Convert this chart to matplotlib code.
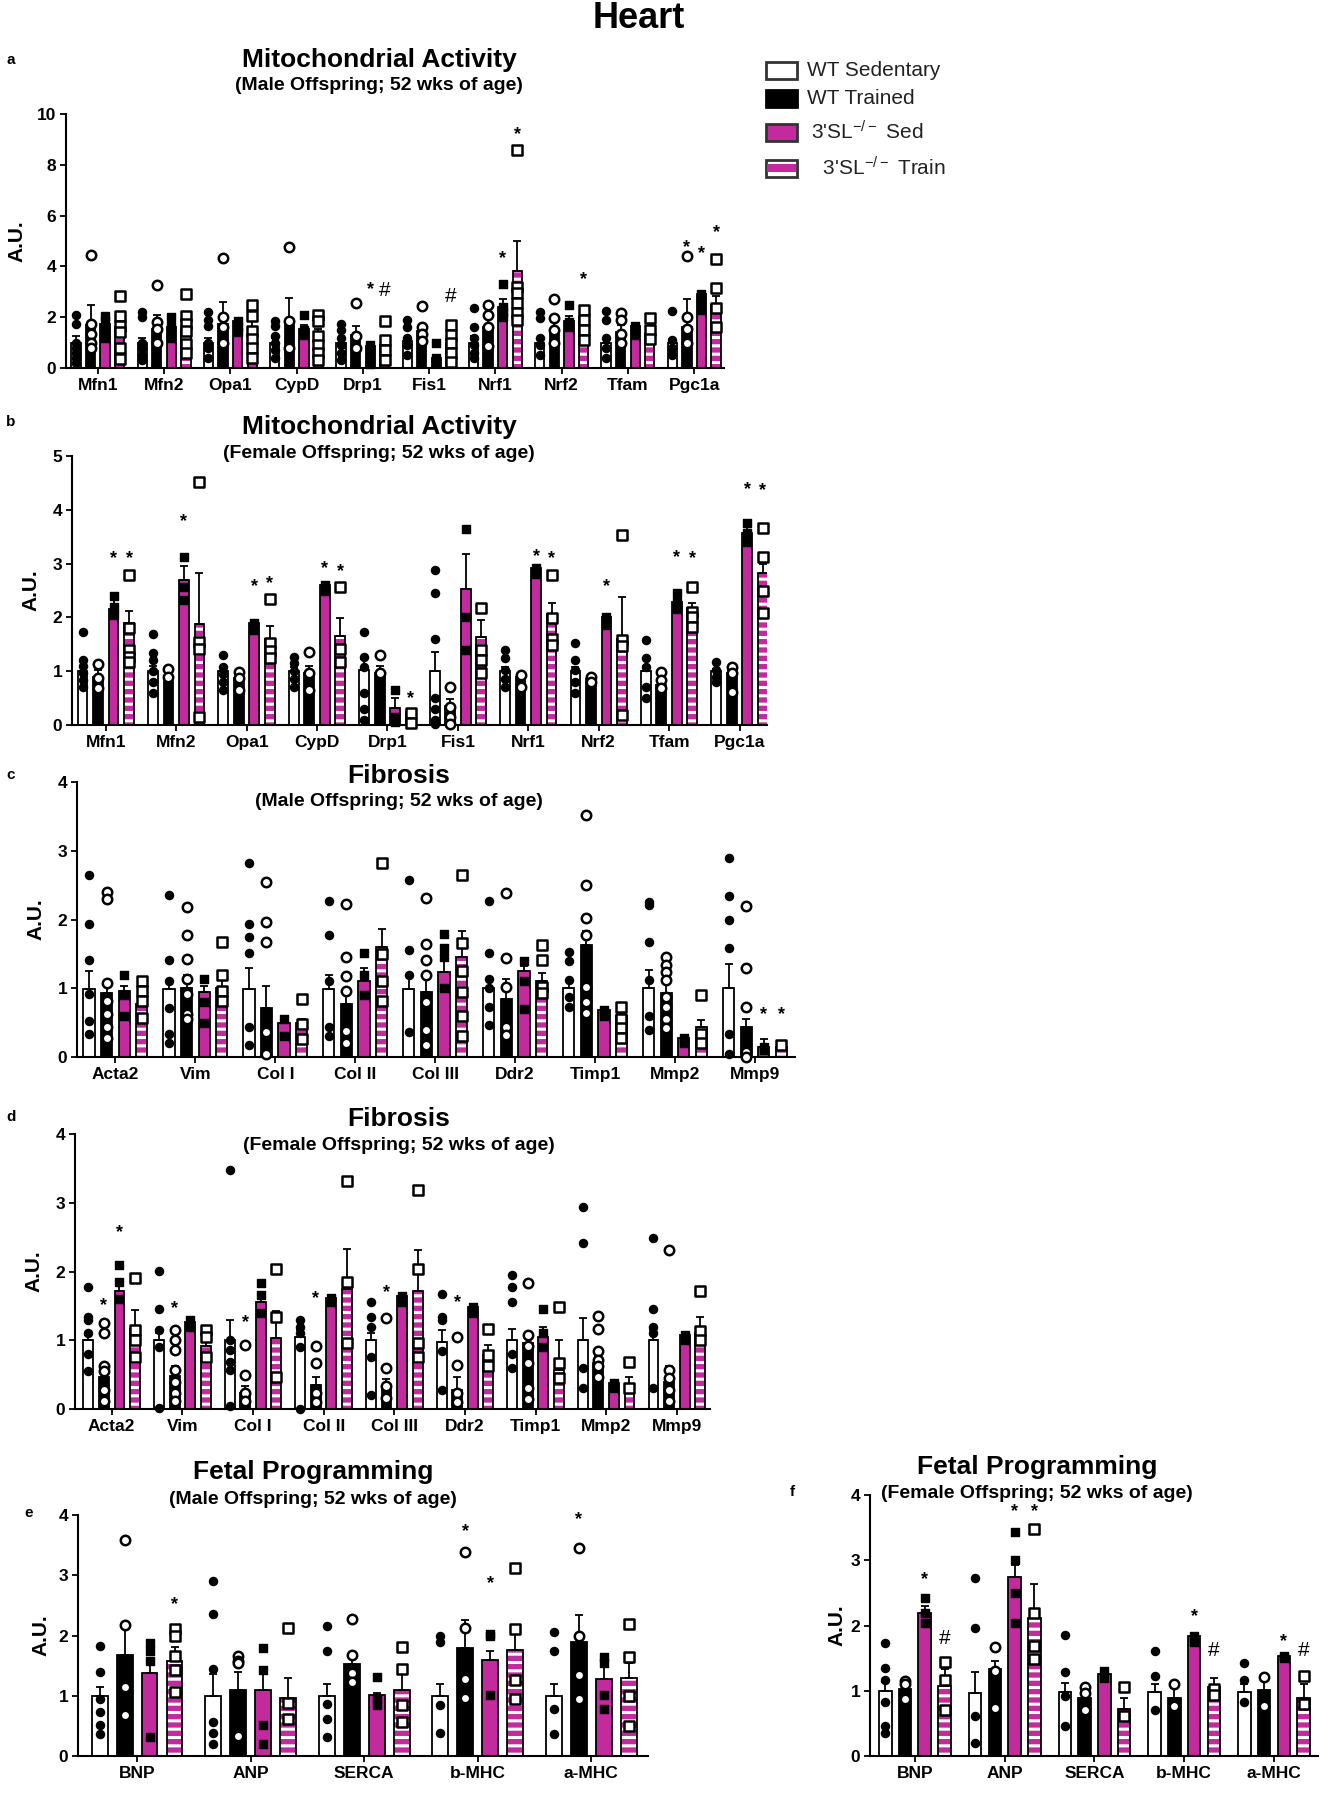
import numpy as np
import matplotlib
matplotlib.use("Agg")
import matplotlib.pyplot as plt
from matplotlib.patches import Rectangle

plt.rcParams['font.family'] = ['Liberation Sans', 'DejaVu Sans']
plt.rcParams['mathtext.default'] = 'regular'
plt.rcParams['hatch.linewidth'] = 2.2

MAG = '#C22A9E'
W, H = 1329, 1800

# ---------------- DATA ----------------
groups = ["WT Sedentary", "WT Trained", "3'SL$^{-/-}$ Sed", " 3'SL$^{-/-}$ Train"]

a_cats = ["Mfn1", "Mfn2", "Opa1", "CypD", "Drp1", "Fis1", "Nrf1", "Nrf2", "Tfam", "Pgc1a"]
a_mean = [[1.0, 1.0, 1.0, 1.0, 1.0, 1.05, 1.0, 1.0, 1.0, 1.0],
          [1.7, 1.55, 1.75, 1.7, 1.3, 1.45, 1.6, 1.5, 1.4, 1.6],
          [1.75, 1.6, 1.85, 1.55, 0.88, 0.4, 2.4, 1.85, 1.65, 2.9],
          [1.6, 1.5, 1.55, 1.3, 0.9, 1.0, 3.8, 2.0, 1.35, 2.5]]
a_sem = [[0.25, 0.2, 0.2, 0.2, 0.2, 0.15, 0.25, 0.2, 0.2, 0.15],
         [0.8, 0.55, 0.85, 1.05, 0.35, 0.25, 0.4, 0.3, 0.3, 1.1],
         [0.15, 0.2, 0.1, 0.15, 0.1, 0.1, 0.3, 0.2, 0.1, 0.15],
         [0.35, 0.3, 0.3, 0.25, 0.2, 0.3, 1.2, 0.35, 0.2, 0.35]]
a_pts = [[[2.1, 1.75, 1.0, 0.8, 0.6, 0.4, 0.2], [2.2, 2.0, 1.0, 0.8, 0.5, 0.3], [2.2, 1.9, 1.65, 1.0, 0.8, 0.4],
          [1.85, 1.65, 1.25, 1.0, 0.7, 0.4], [1.75, 1.5, 1.2, 0.9, 0.6, 0.3], [1.9, 1.6, 1.2, 0.9, 0.5],
          [2.35, 1.6, 1.2, 0.9, 0.6, 0.4], [2.2, 1.95, 1.2, 0.9, 0.5], [2.25, 1.9, 1.2, 0.8, 0.4], [2.25, 1.1, 0.8, 0.5]],
         [[4.45, 1.75, 1.35, 1.0, 0.8], [3.25, 1.8, 1.55, 1.0], [4.35, 2.0, 1.6, 1.0], [4.75, 1.85, 0.8],
          [2.55, 1.25, 0.8], [2.45, 1.6, 1.35, 1.05], [2.5, 2.1, 1.6, 0.87], [2.7, 1.95, 1.5, 0.97],
          [2.15, 1.9, 1.35, 0.97], [4.4, 2.0, 1.55, 1.0]],
         [[2.05, 1.85, 1.6, 1.4, 1.2], [2.0, 1.65, 1.45, 1.2], [1.85, 1.6, 1.4], [2.1, 1.5, 1.3],
          [0.9, 0.7, 0.5, 0.3, 0.15], [0.97, 0.4, 0.25], [3.3, 2.4, 2.2, 2.0], [2.5, 1.8, 1.6],
          [1.65, 1.5, 1.3], [2.9, 2.7, 2.5, 2.3]],
         [[2.85, 2.05, 1.65, 1.4, 0.8, 0.35], [2.9, 2.05, 1.75, 1.45, 0.95, 0.6], [2.5, 2.05, 1.45, 1.15, 0.8, 0.4],
          [2.1, 1.85, 1.25, 0.9, 0.6, 0.3], [1.85, 1.1, 0.7, 0.3], [1.7, 1.3, 0.97, 0.58, 0.25],
          [8.6, 3.2, 2.95, 2.55, 2.15, 1.9], [2.3, 1.9, 1.5, 1.1], [1.95, 1.5, 1.15], [4.3, 3.15, 2.35, 1.6]]]
a_sig = [(4, 2, '*', 3.1), (4, 3, '#', 3.05), (5, 3, '#', 2.8), (6, 2, '*', 4.3), (6, 3, '*', 9.2),
         (7, 3, '*', 3.5), (9, 1, '*', 4.75), (9, 2, '*', 4.5), (9, 3, '*', 5.35)]

b_cats = a_cats
b_mean = [[1.0, 1.0, 1.0, 1.0, 1.02, 1.0, 1.0, 1.0, 1.0, 1.0],
          [0.9, 0.9, 0.88, 0.97, 0.97, 0.35, 0.9, 0.85, 0.75, 0.97],
          [2.15, 2.7, 1.9, 2.6, 0.31, 2.52, 2.91, 2.01, 2.29, 3.56],
          [1.9, 1.88, 1.6, 1.66, 0.25, 1.64, 2.06, 1.6, 2.17, 2.82]]
b_sem = [[0.1, 0.1, 0.08, 0.08, 0.2, 0.35, 0.07, 0.08, 0.1, 0.05],
         [0.12, 0.08, 0.08, 0.13, 0.13, 0.13, 0.06, 0.05, 0.1, 0.1],
         [0.2, 0.25, 0.05, 0.05, 0.2, 0.65, 0.05, 0.05, 0.1, 0.19],
         [0.22, 0.95, 0.24, 0.32, 0.05, 0.31, 0.2, 0.78, 0.09, 0.18]]
b_pts = [[[1.72, 1.2, 1.1, 0.96, 0.84, 0.71], [1.69, 1.33, 1.2, 1.0, 0.8, 0.6], [1.3, 1.08, 0.95, 0.8, 0.65],
          [1.27, 1.15, 1.0, 0.85, 0.7], [1.73, 1.27, 1.08, 0.6, 0.3, 0.1], [2.89, 2.45, 1.6, 0.5, 0.3, 0.1, 0.02],
          [1.39, 1.24, 1.02, 0.85, 0.7], [1.52, 1.21, 1.02, 0.8, 0.6], [1.58, 1.24, 1.08, 0.7, 0.5], [1.18, 1.02, 0.9, 0.8]],
         [[1.13, 0.88, 0.68], [1.05, 0.9], [0.99, 0.87, 0.65], [1.35, 0.96, 0.65], [1.31, 0.96],
          [0.71, 0.34, 0.15, 0.02], [0.93, 0.71], [0.9, 0.79], [0.99, 0.84, 0.68], [1.08, 0.96, 0.62]],
         [[2.4, 2.2, 2.05], [3.13, 2.57, 2.32], [1.9, 1.77], [2.6, 2.5], [0.65, 0.15, 0.05], [3.64, 2.0, 1.4],
          [2.91, 2.8], [2.01, 1.85], [2.45, 2.29, 2.15], [3.75, 3.56, 3.4]],
         [[2.78, 1.81, 1.4, 1.27, 1.18], [4.51, 1.55, 1.41, 0.15], [2.34, 1.53, 1.38, 1.24], [2.57, 1.41, 1.18],
          [0.22, 0.03], [2.17, 1.39, 1.2, 0.96], [2.79, 1.98, 1.59, 1.49], [3.54, 1.58, 1.46, 0.19],
          [2.56, 2.1, 2.01, 1.83], [3.67, 3.12, 2.5, 2.08]]]
b_sig = [(0, 2, '*', 3.1), (0, 3, '*', 3.1), (1, 2, '*', 3.78), (2, 2, '*', 2.57), (2, 3, '*', 2.62),
         (3, 2, '*', 2.9), (3, 3, '*', 2.85), (4, 3, '*', 0.5), (6, 2, '*', 3.13), (6, 3, '*', 3.1),
         (7, 2, '*', 2.57), (8, 2, '*', 3.12), (8, 3, '*', 3.09), (9, 2, '*', 4.38), (9, 3, '*', 4.36)]

c_cats = ["Acta2", "Vim", "Col I", "Col II", "Col III", "Ddr2", "Timp1", "Mmp2", "Mmp9"]
c_mean = [[0.99, 0.99, 0.99, 0.99, 0.99, 1.0, 1.01, 1.0, 1.0],
          [0.93, 1.0, 0.72, 0.77, 0.95, 0.85, 1.63, 0.93, 0.44],
          [0.96, 0.95, 0.5, 1.1, 1.24, 1.25, 0.68, 0.28, 0.15],
          [0.77, 1.0, 0.5, 1.6, 1.46, 1.1, 0.6, 0.44, 0.15]]
c_sem = [[0.26, 0.1, 0.31, 0.2, 0.2, 0.12, 0.1, 0.27, 0.36],
         [0.15, 0.2, 0.31, 0.2, 0.25, 0.28, 0.2, 0.15, 0.12],
         [0.08, 0.08, 0.05, 0.2, 0.22, 0.08, 0.02, 0.02, 0.11],
         [0.21, 0.2, 0.05, 0.26, 0.38, 0.12, 0.1, 0.1, 0.05]]
c_pts = [[[2.65, 1.93, 1.41, 0.91, 0.52, 0.33], [2.35, 1.41, 1.11, 0.72, 0.33, 0.2], [2.82, 1.94, 1.74, 1.52, 0.43, 0.18],
          [2.27, 1.78, 1.1, 0.43, 0.3], [2.58, 1.56, 1.2, 0.36], [2.27, 1.51, 1.13, 1.0, 0.73, 0.47],
          [1.53, 1.39, 1.12, 0.88, 0.73], [2.26, 2.21, 1.67, 1.12, 0.6, 0.4], [2.89, 2.34, 1.99, 1.58, 0.34, 0.05]],
         [[2.4, 2.3, 1.08, 0.82, 0.62, 0.43, 0.28], [2.18, 1.78, 1.42, 1.13, 0.91, 0.62, 0.55], [2.54, 1.96, 1.68, 0.36, 0.04],
          [2.22, 1.46, 1.18, 0.96, 0.38, 0.21], [2.32, 1.65, 1.41, 1.19, 0.8, 0.39, 0.17], [2.38, 1.44, 1.02, 0.44, 0.32],
          [3.52, 2.5, 2.02, 1.77, 1.02, 0.8, 0.64], [1.46, 1.34, 1.24, 1.12, 0.88, 0.73, 0.56, 0.42], [2.19, 1.29, 0.73, 0.08, 0.0]],
         [[1.2, 0.9, 0.6], [1.13, 0.8, 0.5], [0.55, 0.3], [1.52, 1.2, 0.9], [1.79, 1.58, 1.46, 1.0], [1.4, 1.1, 0.7],
          [0.68, 0.6], [0.28, 0.2], [0.15, 0.1]],
         [[1.11, 0.96, 0.82, 0.57], [1.67, 1.2, 0.96, 0.82], [0.84, 0.48, 0.26], [2.82, 1.5, 1.1, 0.82],
          [2.64, 1.66, 1.25, 0.95, 0.6, 0.3], [1.63, 1.41, 1.02, 0.93], [0.73, 0.56, 0.42, 0.27], [0.9, 0.34, 0.2], [0.17]]]
c_sig = [(8, 2, '*', 0.61), (8, 3, '*', 0.61)]

d_cats = c_cats
d_mean = [[1.0, 1.0, 1.0, 1.05, 1.0, 0.98, 1.0, 1.0, 1.0],
          [0.47, 0.48, 0.23, 0.35, 0.33, 0.28, 0.96, 0.67, 0.4],
          [1.72, 1.27, 1.56, 1.61, 1.64, 1.49, 1.05, 0.38, 1.08],
          [1.17, 0.91, 1.04, 1.74, 1.72, 0.79, 0.57, 0.35, 1.1]]
d_sem = [[0.08, 0.1, 0.29, 0.1, 0.1, 0.17, 0.17, 0.32, 0.15],
         [0.1, 0.14, 0.1, 0.12, 0.1, 0.19, 0.12, 0.1, 0.22],
         [0.13, 0.05, 0.05, 0.03, 0.04, 0.04, 0.15, 0.03, 0.03],
         [0.27, 0.15, 0.38, 0.59, 0.59, 0.14, 0.43, 0.12, 0.24]]
d_pts = [[[1.78, 1.34, 1.29, 1.1, 0.8, 0.55], [2.01, 1.46, 1.15, 0.9, 0.01], [3.48, 1.0, 0.86, 0.69, 0.57, 0.05],
          [1.29, 1.2, 1.1, 0.9, 0.0], [1.56, 1.34, 1.2, 0.76, 0.2], [1.68, 1.34, 1.29, 0.85, 0.28],
          [1.95, 1.78, 1.56, 0.8, 0.6], [2.94, 2.42, 0.6, 0.3], [2.49, 1.46, 1.2, 1.1, 0.3]],
         [[1.25, 1.1, 0.62, 0.55, 0.28, 0.11], [1.15, 1.0, 0.86, 0.57, 0.4, 0.23, 0.11], [0.93, 0.5, 0.23, 0.11],
          [0.91, 0.67, 0.23, 0.1], [1.32, 0.59, 0.33, 0.16], [1.05, 0.64, 0.23, 0.1],
          [1.84, 1.08, 0.91, 0.67, 0.3, 0.15], [1.35, 1.17, 0.84, 0.72, 0.62, 0.47], [2.32, 0.57, 0.45, 0.28, 0.12]],
         [[2.09, 1.85, 1.6], [1.3, 1.2], [1.84, 1.66, 1.4], [1.61, 1.55], [1.64, 1.55], [1.49, 1.4],
          [1.46, 1.1, 0.9], [0.38, 0.3], [1.08, 1.0]],
         [[1.9, 1.15, 1.0, 0.76], [1.15, 1.05, 0.76], [2.03, 1.34, 0.47], [3.32, 1.85, 0.96], [3.19, 2.03, 0.96, 0.76],
          [1.17, 0.79, 0.62], [1.48, 0.67, 0.45], [0.69, 0.3], [1.72, 1.13, 1.0]]]
d_sig = [(0, 1, '*', 1.51), (0, 2, '*', 2.57), (1, 1, '*', 1.46), (2, 1, '*', 1.25), (3, 1, '*', 1.61),
         (4, 1, '*', 1.69), (5, 1, '*', 1.55)]

e_cats = ["BNP", "ANP", "SERCA", "b-MHC", "a-MHC"]
e_mean = [[0.99, 0.99, 0.99, 0.99, 0.99],
          [1.67, 1.1, 1.52, 1.8, 1.9],
          [1.38, 1.1, 1.02, 1.59, 1.27],
          [1.58, 0.97, 1.1, 1.76, 1.29]]
e_sem = [[0.16, 0.37, 0.21, 0.21, 0.21],
         [0.49, 0.29, 0.15, 0.45, 0.44],
         [0.14, 0.29, 0.02, 0.15, 0.2],
         [0.23, 0.32, 0.27, 0.32, 0.26]]
e_pts = [[[1.83, 1.39, 0.94, 0.73, 0.52, 0.37], [2.9, 2.36, 1.44, 0.57, 0.39, 0.2], [2.15, 1.74, 0.86, 0.62, 0.31],
          [2.0, 1.89, 0.84, 0.39], [2.05, 1.74, 0.78, 0.36]],
         [[3.58, 2.18, 1.15, 0.68], [1.66, 1.58, 1.55, 0.33], [2.28, 1.67, 1.37, 1.23], [3.39, 2.13, 1.27, 0.97],
          [3.46, 2.0, 1.34, 0.94]],
         [[1.87, 1.74, 1.58, 0.31], [1.79, 1.43, 0.52, 0.2], [1.31, 0.94, 0.84], [2.03, 2.0, 1.02], [1.64, 1.55, 1.02, 0.78]],
         [[2.1, 2.0, 1.66, 1.42, 1.07], [2.12, 0.88, 0.62], [1.81, 1.44, 0.84, 0.57], [3.12, 2.1, 1.26, 0.94],
          [2.19, 1.64, 0.99, 0.49]]]
e_sig = [(0, 3, '*', 2.52), (3, 1, '*', 3.72), (3, 2, '*', 2.86), (4, 1, '*', 3.92)]

f_cats = e_cats
f_mean = [[0.99, 0.97, 0.98, 0.98, 0.98],
          [1.03, 1.33, 0.89, 0.89, 1.01],
          [2.19, 2.74, 1.25, 1.84, 1.54],
          [1.07, 2.12, 0.72, 1.05, 0.89]]
f_sem = [[0.15, 0.31, 0.14, 0.12, 0.12],
         [0.06, 0.12, 0.16, 0.15, 0.16],
         [0.11, 0.19, 0.03, 0.04, 0.04],
         [0.26, 0.51, 0.17, 0.15, 0.21]]
f_pts = [[[1.73, 1.35, 1.17, 0.82, 0.46, 0.36], [2.73, 1.96, 0.61, 0.2], [1.86, 1.28, 0.92, 0.46], [1.61, 1.22, 0.71],
          [1.42, 1.17, 0.82]],
         [[1.15, 1.1, 0.87], [1.67, 1.3, 0.74], [1.05, 0.97, 0.71], [1.11, 0.77], [1.21, 0.77]],
         [[2.42, 2.19, 2.04], [3.43, 3.0, 2.5, 2.04], [1.3, 1.2], [1.84, 1.75], [1.54, 1.5]],
         [[1.44, 1.17, 0.71], [3.48, 2.19, 1.68, 1.48], [1.05, 0.61], [1.02, 0.94], [1.23, 0.79]]]
f_sig = [(0, 2, '*', 2.7), (0, 3, '#', 1.8), (1, 2, '*', 3.75), (1, 3, '*', 3.75), (3, 2, '*', 2.14),
         (3, 3, '#', 1.62), (4, 2, '*', 1.76), (4, 3, '#', 1.62)]

# ---------------- DRAWING ----------------
OFF = [-0.33, -0.11, 0.11, 0.33]
BW = 0.14


def rect(l, t, r, b):
    return [l / W, 1 - b / H, (r - l) / W, (b - t) / H]


def draw(ax, cats, means, sems, pts, sig, ymax, ystep, xl, xr, ylab_px):
    n = len(cats)
    x = np.arange(n)
    for g in range(4):
        xs = x + OFF[g]
        m = np.array(means[g])
        if g == 0:
            ax.bar(xs, m, BW, facecolor='white', edgecolor='black', lw=1.3, zorder=2)
        elif g == 1:
            ax.bar(xs, m, BW, facecolor='black', edgecolor='black', lw=1.3, zorder=2)
        elif g == 2:
            ax.bar(xs, m, BW, facecolor=MAG, edgecolor='black', lw=1.3, zorder=2)
        else:
            ax.bar(xs, m, BW, facecolor=MAG, edgecolor='white', hatch='--', lw=0, zorder=2)
            ax.bar(xs, m, BW, fill=False, edgecolor='black', lw=1.3, zorder=2.1)
        ax.errorbar(xs, m, yerr=[np.zeros(n), np.array(sems[g])], fmt='none', ecolor='black',
                    elinewidth=1.3, capsize=3, capthick=1.3, zorder=3)
        for i in range(n):
            vals = pts[g][i]
            xx = np.full(len(vals), xs[i])
            if g == 0:
                ax.scatter(xx, vals, s=34, marker='o', c='black', zorder=4, clip_on=False)
            elif g == 1:
                ax.scatter(xx, vals, s=46, marker='o', facecolors='white', edgecolors='black',
                           linewidths=1.8, zorder=4, clip_on=False)
            elif g == 2:
                ax.scatter(xx, vals, s=32, marker='s', c='black', zorder=4, clip_on=False)
            else:
                ax.scatter(xx, vals, s=44, marker='s', facecolors='white', edgecolors='black',
                           linewidths=1.8, zorder=4, clip_on=False)
    for (ci, g, sym, y) in sig:
        if sym == '*':
            ax.text(ci + OFF[g], y, '*', ha='center', va='center', fontsize=13, fontweight='bold', zorder=5)
        else:
            ax.text(ci + OFF[g], y, '#', ha='center', va='center', fontsize=15, zorder=5)
    ax.set_xlim(xl, xr)
    ax.set_ylim(0, ymax)
    ax.set_yticks(np.arange(0, ymax + 0.001, ystep))
    ax.set_yticklabels([f"{int(v)}" for v in np.arange(0, ymax + 0.001, ystep)], fontsize=12.5, fontweight='bold')
    ax.set_xticks(x)
    ax.set_xticklabels(cats, fontsize=12.5, fontweight='bold')
    for s in ['top', 'right']:
        ax.spines[s].set_visible(False)
    for s in ['left', 'bottom']:
        ax.spines[s].set_linewidth(1.5)
    ax.tick_params(axis='both', direction='out', length=4, width=1.3, pad=3)
    ax.set_ylabel('A.U.', fontsize=15, fontweight='bold')
    wpx = ax.get_position().width * W
    ax.yaxis.set_label_coords(-ylab_px / wpx, 0.5)


fig = plt.figure(figsize=(W / 100, H / 100), dpi=100)

ax_a = fig.add_axes(rect(66, 114, 724, 368))
draw(ax_a, a_cats, a_mean, a_sem, a_pts, a_sig, 10, 2, -0.48, 9.45, 40)
ax_b = fig.add_axes(rect(72, 456, 767, 725))
draw(ax_b, b_cats, b_mean, b_sem, b_pts, b_sig, 5, 1, -0.48, 9.39, 32)
ax_c = fig.add_axes(rect(77, 782, 795, 1057))
draw(ax_c, c_cats, c_mean, c_sem, c_pts, c_sig, 4, 1, -0.48, 8.5, 32)
ax_d = fig.add_axes(rect(75, 1134, 710, 1409))
draw(ax_d, d_cats, d_mean, d_sem, d_pts, d_sig, 4, 1, -0.52, 8.47, 32)
ax_e = fig.add_axes(rect(78, 1515, 648, 1756))
draw(ax_e, e_cats, e_mean, e_sem, e_pts, e_sig, 4, 1, -0.52, 4.5, 28)
ax_f = fig.add_axes(rect(870, 1495, 1318, 1756))
draw(ax_f, f_cats, f_mean, f_sem, f_pts, f_sig, 4, 1, -0.5, 4.49, 24)


def ftext(x, y, s, **kw):
    fig.text(x / W, 1 - y / H, s, **kw)


ftext(639, 19, 'Heart', fontsize=26, fontweight='bold', ha='center', va='center')
# panel labels
for (lab, x, y) in [('a', 11, 60), ('b', 11, 422), ('c', 11, 775), ('d', 11, 1117), ('e', 29, 1513), ('f', 792, 1492)]:
    ftext(x, y, lab, fontsize=11, fontweight='bold', ha='center', va='center')
# titles
titles = [(379, 60, 86, 'Mitochondrial Activity', '(Male Offspring; 52 wks of age)'),
          (379, 427, 453, 'Mitochondrial Activity', '(Female Offspring; 52 wks of age)'),
          (399, 776, 802, 'Fibrosis', '(Male Offspring; 52 wks of age)'),
          (399, 1119, 1145, 'Fibrosis', '(Female Offspring; 52 wks of age)'),
          (313, 1472, 1499, 'Fetal Programming', '(Male Offspring; 52 wks of age)'),
          (1037, 1467, 1494, 'Fetal Programming', '(Female Offspring; 52 wks of age)')]
for (x, y1, y2, t, st) in titles:
    ftext(x, y1, t, fontsize=19, fontweight='bold', ha='center', va='center')
    ftext(x, y2, st, fontsize=14, fontweight='bold', ha='center', va='center')

# legend (manual)
lg = fig.add_axes([0, 0, 1, 1], zorder=10)
lg.set_xlim(0, W)
lg.set_ylim(H, 0)
lg.axis('off')
rows = [70, 98, 132, 168]
txt_x = [807, 807, 811, 817]
for k in range(4):
    y = rows[k]
    x0, wdt, hgt = 766, 31, 17
    if k == 0:
        lg.add_patch(Rectangle((x0, y - hgt / 2), wdt, hgt, facecolor='white', edgecolor='#333333', lw=2))
    elif k == 1:
        lg.add_patch(Rectangle((x0, y - hgt / 2), wdt, hgt, facecolor='black', edgecolor='black', lw=2))
    elif k == 2:
        lg.add_patch(Rectangle((x0, y - hgt / 2), wdt, hgt, facecolor=MAG, edgecolor='#333333', lw=2))
    else:
        lg.add_patch(Rectangle((x0, y - hgt / 2), wdt, hgt, facecolor='white', edgecolor='#333333', lw=2))
        lg.add_patch(Rectangle((x0 + 1, y - 4), wdt - 2, 8, facecolor=MAG, edgecolor='none'))
    lg.text(txt_x[k], y, groups[k], fontsize=15, ha='left', va='center', color='#222222')

fig.savefig('out.png', dpi=100)
